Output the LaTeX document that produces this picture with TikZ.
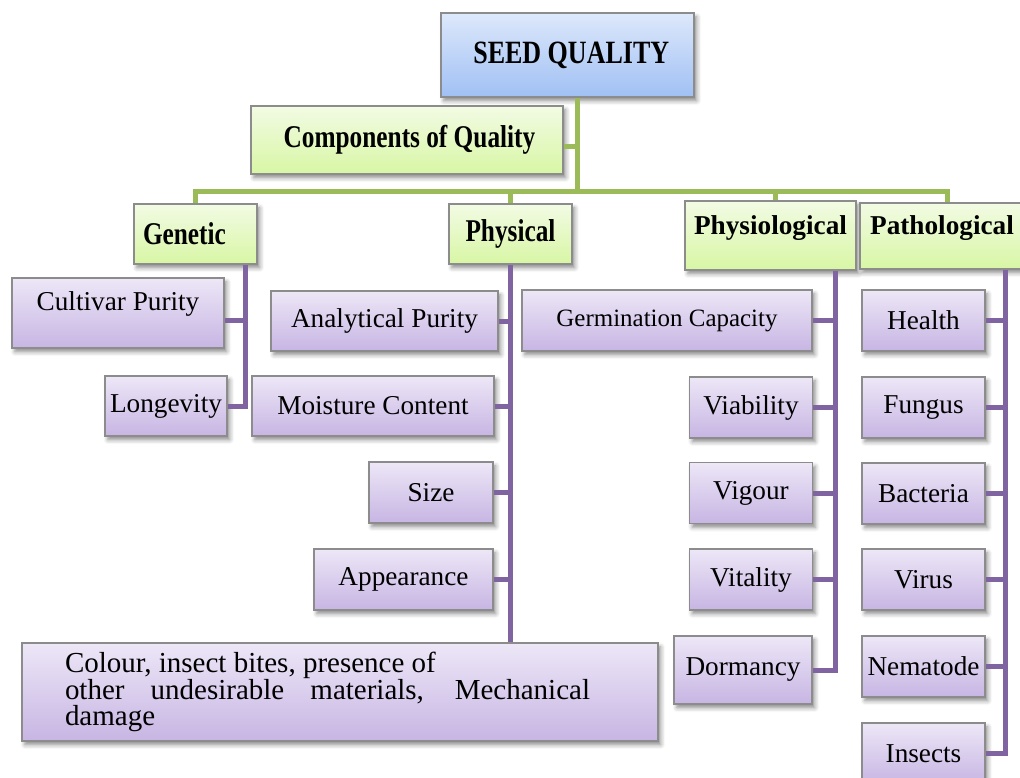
\documentclass[tikz,border=0pt]{standalone}
\usepackage{fontspec}
\setmainfont{Liberation Serif}
\usepackage{graphicx}
\usepackage{xcolor}
\usetikzlibrary{shadows.blur}

\definecolor{qgreen}{HTML}{9BBB59}
\definecolor{qpurple}{HTML}{8064A2}
\definecolor{sqtop}{HTML}{DDE8FB}
\definecolor{sqbot}{HTML}{A0C0F4}
\definecolor{grtop}{HTML}{F2FBE4}
\definecolor{grbot}{HTML}{D8F6A4}
\definecolor{lftop}{HTML}{EDE7F7}
\definecolor{lfbot}{HTML}{C7B5E3}
\newcommand{\tallbf}[1]{\scalebox{1}[1.25]{#1}}

\begin{document}
\begin{tikzpicture}[
  box/.style={draw=black!45,line width=.6pt,rectangle,inner sep=0pt,
    blur shadow={shadow xshift=1.6pt,shadow yshift=-2.2pt,shadow blur radius=2.4pt,shadow opacity=45}},
  topbox/.style={box,top color=sqtop,bottom color=sqbot,font=\fontsize{14.8}{16}\selectfont\bfseries},
  grpbox/.style={box,top color=grtop,bottom color=grbot,font=\fontsize{14.4}{16}\selectfont\bfseries},
  leafbox/.style={box,top color=lftop,bottom color=lfbot,font=\fontsize{15.5}{17}\selectfont},
  smallleaf/.style={leafbox,minimum width=2.46cm,minimum height=1.22cm},
  gline/.style={draw=qgreen,line width=.1cm},
  pline/.style={draw=qpurple,line width=.1cm}]
\useasboundingbox (0,0) rectangle (20.4,-15.56);

% top and group boxes
\node[topbox,minimum width=5.06cm,minimum height=1.68cm] (sq) at (11.35,-1.10) {\kern.15cm\tallbf{SEED QUALITY}};
\node[grpbox,minimum width=6.24cm,minimum height=1.36cm] (coq) at (8.14,-2.80) {\kern.1cm\tallbf{Components of Quality}};
\node[grpbox,minimum width=2.46cm,minimum height=1.20cm,text width=2.1cm,inner xsep=.18cm,align=left] (gen) at (3.91,-4.68) {\tallbf{Genetic}};
\node[grpbox,minimum width=2.46cm,minimum height=1.20cm] (phy) at (10.21,-4.68) {\tallbf{Physical}};
\node[grpbox,minimum width=3.42cm,minimum height=1.38cm,font=\fontsize{15.5}{17}\selectfont\bfseries,text depth=12pt] (pso) at (15.41,-4.71) {Physiological};
\node[grpbox,minimum width=3.28cm,minimum height=1.32cm,font=\fontsize{15.5}{17}\selectfont\bfseries,text depth=12pt] (pat) at (18.84,-4.72) {Pathological};

% genetic and physical leaves
\node[leafbox,minimum width=4.24cm,minimum height=1.40cm,text depth=14pt] (cp) at (2.36,-6.26) {Cultivar Purity};
\node[leafbox,minimum width=2.44cm,minimum height=1.20cm] (lon) at (3.32,-8.12) {Longevity};
\node[leafbox,minimum width=4.54cm,minimum height=1.20cm] (ap) at (7.69,-6.42) {Analytical Purity};
\node[leafbox,minimum width=4.84cm,minimum height=1.20cm] (mc) at (7.46,-8.12) {Moisture Content};
\node[leafbox,minimum width=2.48cm,minimum height=1.22cm] (sz) at (8.62,-9.85) {Size};
\node[leafbox,minimum width=3.58cm,minimum height=1.22cm] (app) at (8.07,-11.59) {Appearance};
\node[leafbox,minimum width=12.72cm,minimum height=1.96cm,font=\fontsize{16.5}{15}\selectfont] (col) at (6.80,-13.84)
  {\parbox{10.5cm}{\sloppy\hyphenpenalty=10000 Colour, insect bites, presence of\\ other undesirable materials, Mechanical damage}\kern.5cm};

% physiological leaves
\node[leafbox,minimum width=5.80cm,minimum height=1.22cm,font=\fontsize{14.2}{16}\selectfont] (gc) at (13.34,-6.41) {Germination Capacity};
\node[smallleaf] (via) at (15.02,-8.15) {Viability};
\node[smallleaf] (vig) at (15.02,-9.86) {Vigour};
\node[smallleaf] (vit) at (15.02,-11.59) {Vitality};
\node[leafbox,minimum width=2.76cm,minimum height=1.36cm] (dor) at (14.86,-13.40) {Dormancy};

% pathological leaves
\node[smallleaf] (hea) at (18.47,-6.41) {Health};
\node[smallleaf] (fun) at (18.47,-8.15) {Fungus};
\node[smallleaf] (bac) at (18.47,-9.87) {Bacteria};
\node[smallleaf] (vir) at (18.47,-11.59) {Virus};
\node[smallleaf] (nem) at (18.47,-13.33) {Nematode};
\node[smallleaf] (ins) at (18.47,-15.07) {Insects};

% green tree
\coordinate (hub) at (11.54,-3.82);
\coordinate (coqtap) at ([yshift=-.14cm]coq.east);
\coordinate (psodrop) at ([xshift=.09cm]pso.north); \coordinate (patdrop) at ([xshift=.1cm]pat.north);
\draw[gline] (sq.south -| hub) -- (hub); \draw[gline] (coqtap) -- (coqtap -| hub);
\draw[gline] (gen.north) |- (patdrop |- hub) -- (patdrop);
\draw[gline] (phy.north) -- (phy.north |- hub); \draw[gline] (psodrop) -- (psodrop |- hub);

% purple trunks
\coordinate (gx) at (4.90,0); \coordinate (sx) at (16.70,0); \coordinate (tx) at (20.10,0);
\coordinate (cptap) at ([yshift=-.14cm]cp.east);
\draw[pline] (gen.south -| gx) |- (lon.east); \draw[pline] (cptap) -- (cptap -| gx);
\draw[pline] (phy.south) -- (phy.south |- col.north);
\foreach \n in {ap,mc,sz,app} \draw[pline] (\n.east) -- (\n.east -| phy.south);
\draw[pline] (pso.south -| sx) |- (dor.east);
\foreach \n in {gc,via,vig,vit} \draw[pline] (\n.east) -- (\n.east -| sx);
\draw[pline] (pat.south -| tx) |- (ins.east);
\foreach \n in {hea,fun,bac,vir,nem} \draw[pline] (\n.east) -- (\n.east -| tx);
\end{tikzpicture}
\end{document}
